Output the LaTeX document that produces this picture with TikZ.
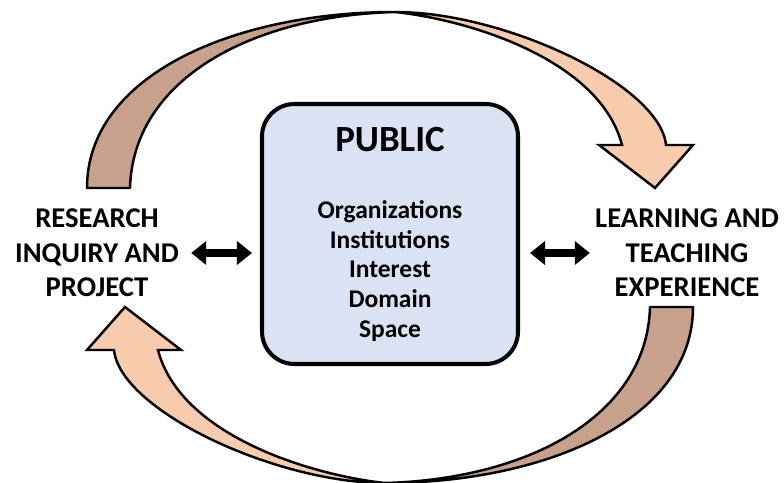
\documentclass[tikz,border=0pt]{standalone}
\usepackage{fontspec}
\setmainfont{Carlito}
\usetikzlibrary{arrows.meta,positioning,calc}

\definecolor{ribbonfront}{RGB}{248,203,173}
\definecolor{ribbonback}{RGB}{199,161,139}
\definecolor{panelblue}{RGB}{218,227,243}

\begin{document}
\begin{tikzpicture}[
		% Styles
		panel/.style={rectangle, rounded corners=0.65cm, draw=black, fill=panelblue, line width=2.3pt, minimum width=5.12cm, minimum height=5.2cm},
		paneltitle/.style={font=\fontsize{21}{25}\selectfont\bfseries},
		paneltext/.style={font=\fontsize{14.5}{17}\selectfont\bfseries, align=center, inner sep=0pt},
		sidelabel/.style={font=\fontsize{16.3}{19.6}\selectfont\bfseries, align=center, inner sep=0pt},
		% Ribbons
		backface/.style={draw=black, fill=ribbonback, line width=1.4pt, line join=round},
		frontface/.style={draw=black, fill=ribbonfront, line width=1.4pt, line join=miter},
		% Arrows
		biarrow/.style={{Triangle[length=0.3cm, width=0.46cm]}-{Triangle[length=0.3cm, width=0.46cm]}, line width=0.16cm},
		]

		\useasboundingbox (0,0) rectangle (15.68,9.64);

		% Upper ribbon arrow
		\begin{scope}[shift={(7.80,4.69)}]
			\draw[backface] (-6.06,1.19) .. controls (-6.06,3.45) and (-3.10,4.71) .. (0.10,4.71)
				.. controls (-2.80,4.63) and (-5.14,3.35) .. (-5.20,1.19) -- cycle;
			\draw[frontface] (0.10,4.71) .. controls (2.30,4.71) and (5.40,3.25) .. (5.52,2.05)
				-- (6.06,2.05) -- (5.30,1.19) -- (4.18,2.05) -- (4.64,2.05)
				.. controls (4.20,3.75) and (1.60,4.55) .. (0.10,4.71) -- cycle;
		\end{scope}

		% Lower ribbon arrow
		\begin{scope}[shift={(7.80,4.69)}, rotate=180]
			\draw[backface] (-6.06,1.19) .. controls (-6.06,3.45) and (-3.10,4.71) .. (0.10,4.71)
				.. controls (-2.80,4.63) and (-5.14,3.35) .. (-5.20,1.19) -- cycle;
			\draw[frontface] (0.10,4.71) .. controls (2.30,4.71) and (5.40,3.25) .. (5.52,2.05)
				-- (6.06,2.05) -- (5.30,1.19) -- (4.18,2.05) -- (4.64,2.05)
				.. controls (4.20,3.75) and (1.60,4.55) .. (0.10,4.71) -- cycle;
		\end{scope}

		% Central box
		\node[panel] (public) at (7.80,4.96) {};
		\node[paneltitle] (publictitle) at (7.80,6.84) {PUBLIC};
		\node[paneltext] (publiclist) at (7.80,4.22) {Organizations\\Institutions\\Interest\\Domain\\Space};

		% Side labels
		\node[sidelabel] (research) at (1.94,4.58) {RESEARCH\\INQUIRY AND\\PROJECT};
		\node[sidelabel] (learning) at (13.74,4.58) {LEARNING AND\\TEACHING\\EXPERIENCE};

		% Connections
		\draw[biarrow, shorten <=0.24cm, shorten >=0.16cm] (research.east) -- (research.east -| public.west);
		\draw[biarrow, shorten <=0.2cm, shorten >=0.1cm] (learning.west -| public.east) -- (learning.west);

	\end{tikzpicture}
\end{document}
